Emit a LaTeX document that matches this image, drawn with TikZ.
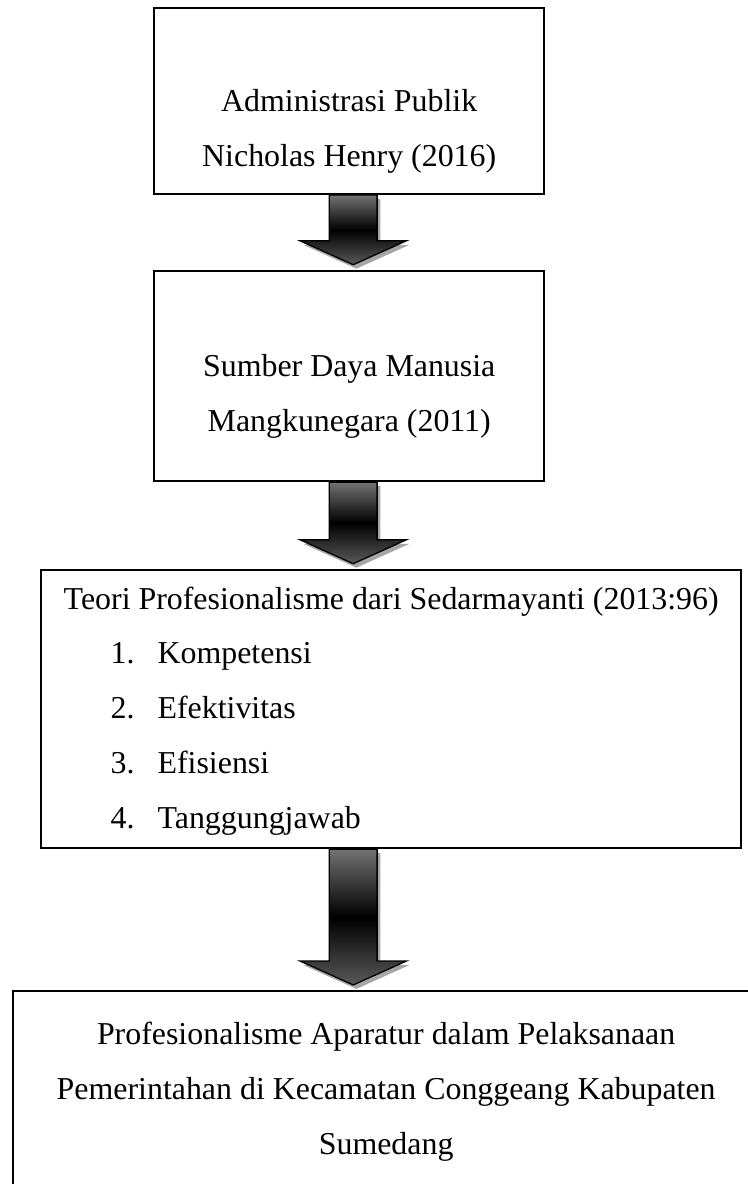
\documentclass[tikz,border=0pt]{standalone}
\usepackage{fontspec}
\setmainfont{Liberation Serif}
\usepackage{xcolor}
\usepackage{tikz}
\usetikzlibrary{positioning, calc}

% fat arrow from the bottom of one box to the top of the next %
\newcommand{\flowarrow}[2]{%
  \path[arrshadow] let \p1 = (axis), \p2 = (#1.south), \p3 = (#2.north) in
    (\x1-9pt,\y2) -- (\x1+9pt,\y2) -- (\x1+9pt,\y3+11pt) -- (\x1+20pt,\y3+11pt)
    -- (\x1,\y3+2pt) -- (\x1-20pt,\y3+11pt) -- (\x1-9pt,\y3+11pt) -- cycle;
  \path[arrbody] let \p1 = (axis), \p2 = (#1.south), \p3 = (#2.north) in
    (\x1-9pt,\y2) -- (\x1+9pt,\y2) -- (\x1+9pt,\y3+11pt) -- (\x1+20pt,\y3+11pt)
    -- (\x1,\y3+2pt) -- (\x1-20pt,\y3+11pt) -- (\x1-9pt,\y3+11pt) -- cycle;}

\begin{document}
\begin{tikzpicture}[
  box/.style={draw, line width=0.8pt, inner sep=0pt},
  txt/.style={font=\fontsize{12}{20.7}\selectfont, align=center, inner sep=0pt, anchor=base},
  item/.style={font=\fontsize{12}{20.7}\selectfont, inner sep=0pt, anchor=base west},
  arrshadow/.style={fill=black!35, transform canvas={xshift=1.2pt, yshift=-1.5pt}},
  arrbody/.style={draw=black, line width=0.5pt, top color=black!55, bottom color=black!65, middle color=black}
]

\useasboundingbox (0,0) rectangle (281.1pt,-445.5pt);

% nodes %
\node[box, minimum width=146.8pt, minimum height=70pt, anchor=north west] (b1) at (57.6pt,-2.6pt) {};
\node[box, minimum width=146.8pt, minimum height=79pt, below = 28.2pt of b1] (b2) {};
\node[box, minimum width=263.4pt, minimum height=104.6pt, below = 32.7pt of b2, xshift=15.8pt] (b3) {};
\node[box, minimum width=280.7pt, minimum height=77.5pt, below = 53.1pt of b3, xshift=-1.9pt] (b4) {};

% texts %
\node[txt] (t1) at ([yshift=-60.2pt]b1.north) {Administrasi Publik\\Nicholas Henry (2016)};
\node[txt] (t2) at ([yshift=-60.6pt]b2.north) {Sumber Daya Manusia\\Mangkunegara (2011)};
\node[txt] (t3) at ([yshift=-15.1pt]b3.north) {Teori Profesionalisme dari Sedarmayanti (2013:96)};
\node[item] (k1) at ([xshift=26.3pt, yshift=-35.7pt]b3.north west) {\makebox[17.7pt][l]{1.}Kompetensi};
\node[item] (k2) at ([yshift=-20.7pt]k1.base west) {\makebox[17.7pt][l]{2.}Efektivitas};
\node[item] (k3) at ([yshift=-20.7pt]k2.base west) {\makebox[17.7pt][l]{3.}Efisiensi};
\node[item] (k4) at ([yshift=-20.7pt]k3.base west) {\makebox[17.7pt][l]{4.}Tanggungjawab};
\node[txt] (t4) at ([yshift=-61.7pt]b4.north) {Profesionalisme Aparatur dalam Pelaksanaan\\Pemerintahan di Kecamatan Conggeang Kabupaten\\Sumedang};

% edges %
\coordinate (axis) at ([xshift=1.5pt]b1.south);
\flowarrow{b1}{b2}
\flowarrow{b2}{b3}
\flowarrow{b3}{b4}

\end{tikzpicture}
\end{document}
